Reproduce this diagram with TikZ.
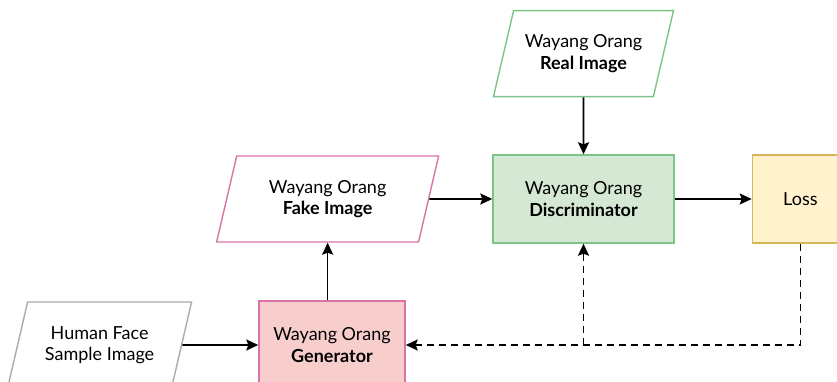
\documentclass[tikz,border=0pt]{standalone}
\usepackage{fontspec}
\setmainfont{Lato}
\usetikzlibrary{positioning}
\usetikzlibrary{shapes.geometric}
\usetikzlibrary{arrows.meta}
\definecolor{pinkline}{HTML}{D874A8}
\definecolor{pinkfill}{HTML}{F8CECC}
\definecolor{greenline}{HTML}{7CC48A}
\definecolor{greenfill}{HTML}{D5E8D4}
\definecolor{yellowline}{HTML}{D6B656}
\definecolor{yellowfill}{HTML}{FFF2CC}
\definecolor{grayline}{HTML}{ABABAB}
\tikzset{%
  flowarrow/.style = {-{Stealth[length=12pt,width=11pt,inset=2pt]},line width=1.7pt},
  dasharrow/.style = {flowarrow,dash pattern=on 7pt off 5pt},
  data/.style = {trapezium,trapezium left angle=62,trapezium right angle=118,
        trapezium stretches body,draw,line width=1.4pt,align=center,
        minimum height=86pt,inner sep=0pt,font=\fontsize{18}{21.5}\selectfont},
  block/.style = {rectangle,draw,line width=1.4pt,align=center,
        minimum height=88pt,inner sep=0pt,font=\fontsize{18}{21.5}\selectfont}
}
\begin{document}
\begin{tikzpicture}[x=1pt,y=1pt,node distance=57pt and 63pt]
   \useasboundingbox (0,0) rectangle (837,382);
   \node[block,fill=greenfill,draw=greenline,minimum width=181pt] (disc) at (583.5,183) {Wayang Orang\\\textbf{Discriminator}};
   \node[data,draw=greenline,minimum width=180pt] (real) [above=of disc] {Wayang Orang\\\textbf{Real Image}};
   \node[block,fill=yellowfill,draw=yellowline,minimum width=96pt] (loss) [right=77pt of disc] {Loss};
   \node[data,draw=pinkline,minimum width=222pt] (fake) [left=of disc] {Wayang Orang\\\textbf{Fake Image}};
   \node[block,fill=pinkfill,draw=pinkline,minimum width=146pt] (gen) at (332,37) {Wayang Orang\\\textbf{Generator}};
   \node[data,draw=grayline,minimum width=184pt] (human) [left=76pt of gen] {Human Face\\Sample Image};
   \coordinate (split) at (disc.south |- gen.east);
   \draw[flowarrow] (human) -- (gen);
   \draw[flowarrow] (gen.north -| fake.south) -- (fake.south);
   \draw[flowarrow] (fake) -- (disc);
   \draw[flowarrow] (real) -- (disc);
   \draw[flowarrow] (disc) -- (loss);
   \draw[dasharrow] (loss.south) |- (gen.east);
   \draw[dasharrow] (split) -- (disc.south);
\end{tikzpicture}
\end{document}
